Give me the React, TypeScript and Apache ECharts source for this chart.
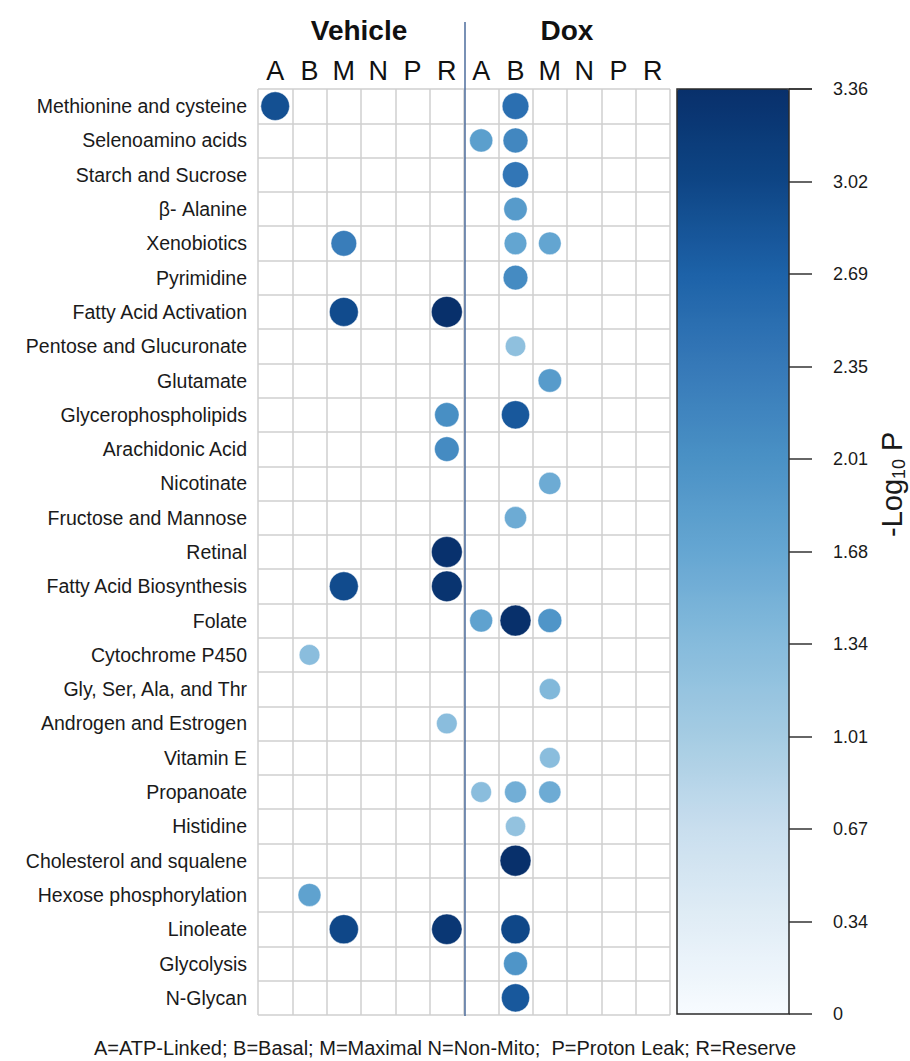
import React, { useEffect, useRef } from "react";
import * as echarts from "echarts";

const PATHWAYS = [
  "Methionine and cysteine",
  "Selenoamino acids",
  "Starch and Sucrose",
  "β- Alanine",
  "Xenobiotics",
  "Pyrimidine",
  "Fatty Acid Activation",
  "Pentose and Glucuronate",
  "Glutamate",
  "Glycerophospholipids",
  "Arachidonic Acid",
  "Nicotinate",
  "Fructose and Mannose",
  "Retinal",
  "Fatty Acid Biosynthesis",
  "Folate",
  "Cytochrome P450",
  "Gly, Ser, Ala, and Thr",
  "Androgen and Estrogen",
  "Vitamin E",
  "Propanoate",
  "Histidine",
  "Cholesterol and squalene",
  "Hexose phosphorylation",
  "Linoleate",
  "Glycolysis",
  "N-Glycan",
];

const MEASURES = ["A", "B", "M", "N", "P", "R"];
const GROUPS = ["Vehicle", "Dox"];

// [pathway, measure, -log10 P]
const VEHICLE_POINTS: [string, string, number][] = [
  ["Methionine and cysteine", "A", 2.9],
  ["Xenobiotics", "M", 2.3],
  ["Fatty Acid Activation", "M", 2.95],
  ["Fatty Acid Activation", "R", 3.36],
  ["Glycerophospholipids", "R", 2.05],
  ["Arachidonic Acid", "R", 2.1],
  ["Retinal", "R", 3.34],
  ["Fatty Acid Biosynthesis", "M", 2.95],
  ["Fatty Acid Biosynthesis", "R", 3.3],
  ["Cytochrome P450", "B", 1.3],
  ["Androgen and Estrogen", "R", 1.3],
  ["Hexose phosphorylation", "B", 1.75],
  ["Linoleate", "M", 3.0],
  ["Linoleate", "R", 3.25],
];

const DOX_POINTS: [string, string, number][] = [
  ["Methionine and cysteine", "B", 2.5],
  ["Selenoamino acids", "A", 1.8],
  ["Selenoamino acids", "B", 2.15],
  ["Starch and Sucrose", "B", 2.4],
  ["β- Alanine", "B", 1.85],
  ["Xenobiotics", "B", 1.7],
  ["Xenobiotics", "M", 1.7],
  ["Pyrimidine", "B", 2.1],
  ["Pentose and Glucuronate", "B", 1.25],
  ["Glutamate", "M", 1.85],
  ["Glycerophospholipids", "B", 2.8],
  ["Nicotinate", "M", 1.6],
  ["Fructose and Mannose", "B", 1.6],
  ["Folate", "A", 1.75],
  ["Folate", "B", 3.36],
  ["Folate", "M", 1.95],
  ["Gly, Ser, Ala, and Thr", "M", 1.4],
  ["Vitamin E", "M", 1.3],
  ["Propanoate", "A", 1.3],
  ["Propanoate", "B", 1.55],
  ["Propanoate", "M", 1.6],
  ["Histidine", "B", 1.2],
  ["Cholesterol and squalene", "B", 3.36],
  ["Linoleate", "B", 3.0],
  ["Glycolysis", "B", 1.95],
  ["N-Glycan", "B", 2.8],
];

const SCALE_MAX = 3.36;
const TICK_LABELS = ["0", "0.34", "0.67", "1.01", "1.34", "1.68", "2.01", "2.35", "2.69", "3.02", "3.36"];
const BLUES = [
  "#f7fbff", "#e1edf6", "#c9deee", "#a5cce3", "#86bbdc", "#65a6d2",
  "#4a91c5", "#3679b8", "#1d62a8", "#0e4585", "#08306b",
];
const FOOTNOTE = "A=ATP-Linked; B=Basal; M=Maximal N=Non-Mito;  P=Proton Leak; R=Reserve";

const FONT = "'Liberation Sans', Arial, sans-serif";

export default function App() {
  const ref = useRef<HTMLDivElement>(null);

  useEffect(() => {
    document.body.style.margin = "0";
    if (!ref.current) return;
    const chart = echarts.init(ref.current, undefined, { renderer: "svg" });

    const colIds: string[] = [];
    GROUPS.forEach((g) => MEASURES.forEach((m) => colIds.push(g + "_" + m)));

    const data: [number, number, number][] = [];
    VEHICLE_POINTS.forEach(([p, m, v]) => data.push([MEASURES.indexOf(m), PATHWAYS.indexOf(p), v]));
    DOX_POINTS.forEach(([p, m, v]) => data.push([MEASURES.length + MEASURES.indexOf(m), PATHWAYS.indexOf(p), v]));

    const G = { left: 258, top: 89, width: 412, height: 926 };
    const CB = { left: 677, top: 89, width: 112, height: 925 };
    const divX = G.left + (G.width / colIds.length) * MEASURES.length + 1;

    chart.setOption({
      animation: false,
      backgroundColor: "#ffffff",
      textStyle: { fontFamily: FONT },
      grid: [
        { left: G.left, top: G.top, width: G.width, height: G.height, show: false },
        { left: CB.left, top: CB.top, width: CB.width, height: CB.height, show: false },
      ],
      xAxis: [
        {
          type: "category",
          gridIndex: 0,
          position: "top",
          data: colIds,
          axisLine: { show: false },
          axisTick: { show: false },
          axisLabel: {
            interval: 0,
            margin: 5,
            fontSize: 27,
            color: "#111",
            fontFamily: FONT,
            formatter: (v: string) => v.split("_")[1],
          },
          splitLine: { show: true, interval: 0, lineStyle: { color: "#cfcfcf", width: 1.5 } },
        },
        { type: "value", gridIndex: 1, show: false, min: 0, max: 1 },
      ],
      yAxis: [
        {
          type: "category",
          gridIndex: 0,
          inverse: true,
          data: PATHWAYS,
          axisLine: { show: false },
          axisTick: { show: false },
          axisLabel: { interval: 0, margin: 11, fontSize: 19.5, color: "#1a1a1a", fontFamily: FONT },
          splitLine: { show: true, interval: 0, lineStyle: { color: "#cfcfcf", width: 1.5 } },
        },
        {
          type: "value",
          gridIndex: 1,
          position: "right",
          min: 0,
          max: SCALE_MAX,
          interval: SCALE_MAX / 10,
          axisLine: { show: false, onZero: false },
          axisTick: { show: true, inside: false, length: 23, lineStyle: { color: "#333", width: 1.5 } },
          axisLabel: {
            margin: 44,
            fontSize: 18,
            color: "#1a1a1a",
            fontFamily: FONT,
            formatter: (_v: number, i: number) => TICK_LABELS[i],
          },
          splitLine: { show: false },
          z: 10,
        },
      ],
      visualMap: [
        {
          type: "continuous",
          seriesIndex: 0,
          dimension: 2,
          min: 0,
          max: SCALE_MAX,
          calculable: false,
          hoverLink: false,
          left: CB.left,
          top: CB.top,
          itemWidth: CB.width,
          itemHeight: CB.height,
          padding: 0,
          text: null,
          inRange: { color: BLUES },
        },
        {
          type: "continuous",
          show: false,
          seriesIndex: 0,
          dimension: 2,
          min: 0,
          max: SCALE_MAX,
          inRange: { symbolSize: [14.2, 31] },
        },
      ],
      series: [
        {
          type: "scatter",
          xAxisIndex: 0,
          yAxisIndex: 0,
          data,
          itemStyle: { opacity: 1, borderColor: "rgba(255,255,255,0.45)", borderWidth: 1 },
          z: 5,
        },
      ],
      graphic: [
        {
          type: "rect",
          shape: { x: CB.left, y: CB.top, width: CB.width, height: CB.height },
          style: { fill: "none", stroke: "#2b2b2b", lineWidth: 1.5 },
          z: 20,
        },
        {
          type: "line",
          shape: { x1: divX, y1: 22, x2: divX, y2: G.top + G.height + 1 },
          style: { stroke: "#4d6c9c", lineWidth: 1.5 },
          z: 20,
        },
        {
          type: "text",
          x: 359,
          y: 30,
          style: { text: GROUPS[0], font: `bold 28px ${FONT}`, fill: "#111", align: "center", verticalAlign: "middle" },
          z: 20,
        },
        {
          type: "text",
          x: 567,
          y: 30,
          style: { text: GROUPS[1], font: `bold 28px ${FONT}`, fill: "#111", align: "center", verticalAlign: "middle" },
          z: 20,
        },
        {
          type: "text",
          x: 445,
          y: 1048,
          style: { text: FOOTNOTE, font: `20px ${FONT}`, fill: "#1a1a1a", align: "center", verticalAlign: "middle" },
          z: 20,
        },
        {
          type: "group",
          x: 892,
          y: 482,
          rotation: Math.PI / 2,
          z: 20,
          children: [
            {
              type: "text",
              x: -55,
              y: 0,
              style: { text: "-Log", font: `29px ${FONT}`, fill: "#1a1a1a", align: "left", verticalAlign: "middle" },
            },
            {
              type: "text",
              x: 3,
              y: 7,
              style: { text: "10", font: `18px ${FONT}`, fill: "#1a1a1a", align: "left", verticalAlign: "middle" },
            },
            {
              type: "text",
              x: 31,
              y: 0,
              style: { text: "P", font: `29px ${FONT}`, fill: "#1a1a1a", align: "left", verticalAlign: "middle" },
            },
          ],
        },
      ],
    });

    return () => chart.dispose();
  }, []);

  return <div ref={ref} style={{ width: 910, height: 1061 }} />;
}
